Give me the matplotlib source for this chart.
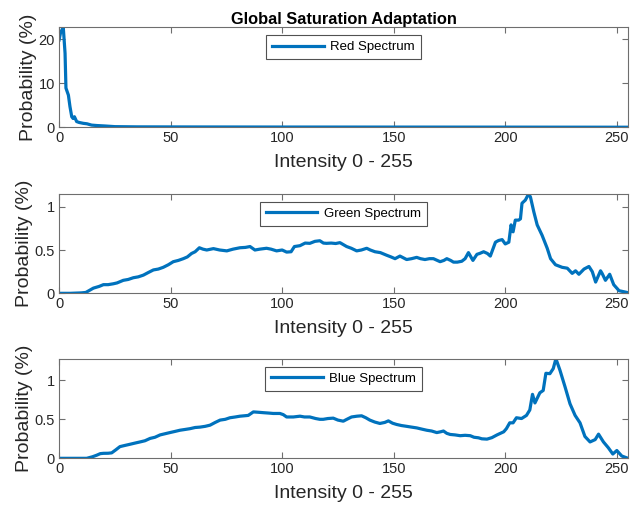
import matplotlib
matplotlib.use("Agg")
import matplotlib.pyplot as plt

plt.rcParams['font.family'] = ['Liberation Sans', 'DejaVu Sans']

# histogram samples, intensity vs. probability (%)
red_x = [0, 0.7, 1.9, 2.7, 3.1, 4.2, 4.9, 5.7, 6.3, 6.9, 7.9, 9, 10.9, 12.5,
         14.6, 17, 20.6, 25, 35, 60, 100, 150, 200, 255]
red_y = [19.8, 21.5, 22.7, 16.8, 8.9, 7.3, 4.7, 2.4, 2.0, 2.4, 1.3, 1.1, 0.9, 0.8,
         0.5, 0.4, 0.3, 0.15, 0.1, 0.08, 0.06, 0.05, 0.04, 0.02]

green_x = [0, 5, 10, 12, 15.4, 18, 19.9, 22, 24.3, 26, 28.8, 31, 33.3, 35.5, 37.8,
           40, 42.3, 44.5, 46.7, 49, 51.2, 53.5, 55.7, 57.5, 59.4, 61, 62.9, 64.5,
           66.2, 69.2, 72, 75.2, 78, 81.1, 83.5, 85.6, 87.8, 90, 93, 95, 97.5, 100,
           102, 104, 105.5, 108, 110.3, 112.4, 114.7, 116.9, 118.5, 119.9, 122, 124,
           125.9, 128.9, 131, 133.4, 135.5, 137.9, 139.5, 141.6, 144, 146.8, 148.8,
           150.6, 152.8, 155.8, 158, 160.3, 162, 164, 166, 167.8, 170.8, 172.5,
           173.8, 175.5, 176.8, 178.5, 180.5, 182, 183.5, 185.5, 187.3, 188.5, 190.3,
           192, 193.3, 195.6, 197, 198.6, 200, 201.6, 202.6, 203.5, 204.5, 206,
           206.8, 207.5, 209, 210.5, 211.3, 212.8, 214.3, 216.5, 218.8, 220.3, 222.5,
           225.5, 227.8, 230, 231.5, 233, 235.3, 237.5, 239, 240.5, 242.7, 243.4,
           244.9, 246.8, 248.6, 251, 254.6, 255]
green_y = [0, 0, 0.005, 0.01, 0.06, 0.08, 0.10, 0.10, 0.11, 0.12, 0.15, 0.16, 0.18,
           0.19, 0.21, 0.24, 0.27, 0.28, 0.30, 0.33, 0.365, 0.38, 0.40, 0.42, 0.46,
           0.48, 0.526, 0.51, 0.50, 0.516, 0.50, 0.49, 0.51, 0.526, 0.53, 0.54, 0.50,
           0.51, 0.52, 0.51, 0.49, 0.50, 0.476, 0.48, 0.54, 0.55, 0.58, 0.577, 0.60,
           0.607, 0.58, 0.577, 0.58, 0.575, 0.585, 0.54, 0.52, 0.49, 0.50, 0.52,
           0.50, 0.48, 0.47, 0.44, 0.42, 0.40, 0.43, 0.39, 0.40, 0.415, 0.40, 0.39,
           0.40, 0.40, 0.365, 0.38, 0.40, 0.38, 0.36, 0.36, 0.37, 0.40, 0.47, 0.38,
           0.45, 0.46, 0.48, 0.46, 0.43, 0.59, 0.61, 0.62, 0.57, 0.59, 0.79, 0.71,
           0.845, 0.845, 0.86, 1.04, 1.076, 1.15, 1.11, 0.94, 0.79, 0.67, 0.52, 0.40,
           0.33, 0.30, 0.29, 0.23, 0.26, 0.22, 0.28, 0.31, 0.25, 0.13, 0.26, 0.23,
           0.15, 0.22, 0.10, 0.03, 0.01, 0.005]

blue_x = [0, 6, 12.4, 15, 16.9, 18.5, 19.9, 22, 23.6, 25.5, 27.3, 29.5, 31.8, 34,
          36.3, 38.5, 40.8, 43, 45.3, 47.5, 49.7, 52, 54.2, 56.5, 58.7, 61, 63.2,
          65.5, 67.7, 70, 72.2, 74.5, 76.6, 79, 81.1, 83, 84.8, 87.1, 89.5, 91.6,
          94, 96, 99, 100.5, 102, 105, 108, 110, 112.4, 115, 116.9, 118.4, 120.5,
          122.9, 125, 127.4, 129, 131.1, 133.5, 135.6, 137.5, 139.3, 141.5, 143.8,
          146, 147.6, 149.5, 151.3, 153.5, 155.8, 158, 160.3, 162.5, 164.8, 167,
          169.3, 171, 172.3, 173.8, 175.3, 177.5, 179.8, 182, 184.3, 186, 188,
          189.5, 191.8, 194, 196.3, 197.8, 199.3, 200.5, 202, 203.5, 205, 207.3,
          209.5, 211, 212.2, 213.3, 215.5, 217, 218.2, 220, 221.5, 222.7, 224.5,
          226.8, 229, 231.3, 233.5, 235.7, 238, 240.3, 241.8, 244, 246.2, 248.2,
          250, 252.2, 255]
blue_y = [0, 0, 0, 0.02, 0.04, 0.06, 0.064, 0.065, 0.07, 0.11, 0.15, 0.165, 0.18,
          0.195, 0.21, 0.225, 0.255, 0.27, 0.30, 0.315, 0.33, 0.345, 0.36, 0.37,
          0.38, 0.395, 0.40, 0.41, 0.425, 0.46, 0.49, 0.50, 0.52, 0.53, 0.54, 0.545,
          0.55, 0.595, 0.59, 0.585, 0.58, 0.575, 0.575, 0.56, 0.53, 0.53, 0.54, 0.53,
          0.53, 0.51, 0.50, 0.50, 0.51, 0.515, 0.49, 0.476, 0.50, 0.53, 0.54, 0.545,
          0.52, 0.49, 0.465, 0.447, 0.46, 0.48, 0.45, 0.434, 0.42, 0.41, 0.40, 0.39,
          0.375, 0.36, 0.35, 0.33, 0.34, 0.35, 0.32, 0.306, 0.30, 0.29, 0.295, 0.29,
          0.27, 0.263, 0.25, 0.246, 0.265, 0.30, 0.32, 0.34, 0.38, 0.455, 0.455,
          0.52, 0.51, 0.55, 0.62, 0.82, 0.71, 0.84, 0.87, 1.09, 1.085, 1.15, 1.277,
          1.13, 0.915, 0.70, 0.55, 0.455, 0.28, 0.21, 0.24, 0.31, 0.21, 0.135, 0.055,
          0.10, 0.03, 0.0]

series = [
    (red_x, red_y, 'Red Spectrum', [0, 10, 20], ['0', '10', '20']),
    (green_x, green_y, 'Green Spectrum', [0, 0.5, 1], ['0', '0.5', '1']),
    (blue_x, blue_y, 'Blue Spectrum', [0, 0.5, 1], ['0', '0.5', '1']),
]
xticks = [0, 50, 100, 150, 200, 250]

line_color = '#0072BD'
text_color = '#262626'
spine_color = '#6e6e6e'

fig = plt.figure(figsize=(6.3, 5.08), dpi=100)
positions = [
    [0.0937, 0.7494, 0.9031, 0.1969],
    [0.0937, 0.4226, 0.9031, 0.1961],
    [0.0937, 0.0978, 0.9031, 0.1961],
]

for pos, (xs, ys, name, yt, ytl) in zip(positions, series):
    ax = fig.add_axes(pos)
    ax.plot(xs, ys, color=line_color, lw=2.3, label=name, solid_joinstyle='round')
    ax.set_xlim(0, 255)
    ax.set_ylim(0, max(ys))
    ax.set_xticks(xticks)
    ax.set_yticks(yt)
    ax.set_yticklabels(ytl)
    ax.tick_params(direction='in', top=True, right=True, length=4, width=0.8,
                   color=spine_color, labelcolor=text_color, labelsize=10.5, pad=3)
    for sp in ax.spines.values():
        sp.set_color(spine_color)
        sp.set_linewidth(0.8)
    ax.set_xlabel('Intensity 0 - 255', fontsize=14, color=text_color, labelpad=6)
    ax.set_ylabel('Probability (%)', fontsize=14, color=text_color, labelpad=1)
    leg = ax.legend(loc='upper center', fontsize=9.5, handlelength=3.9, fancybox=False,
                    borderaxespad=0.6, borderpad=0.45, handletextpad=0.5)
    leg.get_frame().set_edgecolor('#262626')
    leg.get_frame().set_linewidth(0.8)
    if name == 'Red Spectrum':
        ax.set_title('Global Saturation Adaptation', fontsize=11.8, fontweight='bold',
                     color='black', pad=2.5)

fig.savefig('out.png', dpi=100)
